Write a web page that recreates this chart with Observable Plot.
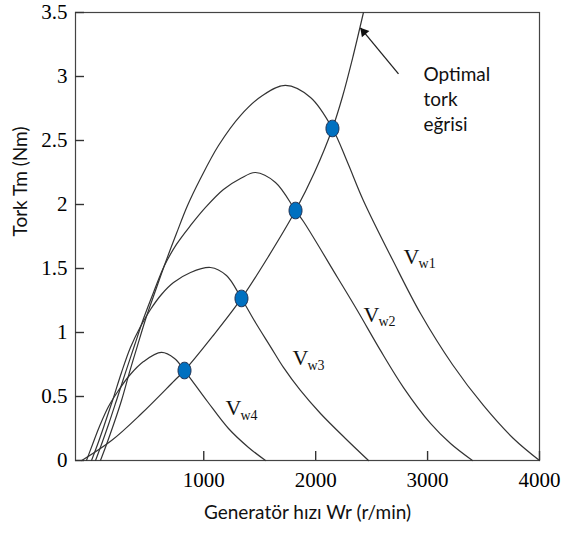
<!DOCTYPE html>
<html>
<head>
<meta charset="utf-8">
<script src="https://cdn.jsdelivr.net/npm/d3@7"></script>
<script src="https://cdn.jsdelivr.net/npm/@observablehq/plot@0.6"></script>
<style>
  html, body { margin: 0; padding: 0; background: #fff; }
</style>
</head>
<body>
<div id="chart"></div>
<script>
// ---- data ----
const xTicks = [1000, 2000, 3000, 4000];
const yTicks = [0, 0.5, 1, 1.5, 2, 2.5, 3, 3.5];

const xLabel = "Generatör hızı Wr (r/min)";
const yLabel = "Tork Tm (Nm)";

// torque curves for the four wind speeds
const vw1W = [77, 131, 194, 265, 336, 408, 488, 569, 658, 756, 855, 971, 1132, 1328, 1525, 1730, 1954, 2150, 2284, 2427, 2686, 2937, 3222, 3499, 3767, 4000];
const vw1T = [0, 0.125, 0.281, 0.469, 0.688, 0.898, 1.125, 1.328, 1.547, 1.773, 1.992, 2.203, 2.461, 2.695, 2.852, 2.93, 2.836, 2.594, 2.33, 2.03, 1.57, 1.148, 0.75, 0.43, 0.172, 0];

const vw2W = [33, 86, 149, 220, 301, 381, 462, 551, 649, 756, 882, 1016, 1176, 1328, 1462, 1641, 1820, 1891, 2195, 2374, 2579, 2785, 3026, 3205, 3401];
const vw2T = [0, 0.125, 0.281, 0.469, 0.688, 0.898, 1.109, 1.313, 1.523, 1.688, 1.836, 1.977, 2.117, 2.203, 2.25, 2.172, 1.953, 1.867, 1.43, 1.17, 0.86, 0.57, 0.29, 0.133, 0];

const vw3W = [-3, 51, 113, 185, 265, 345, 435, 524, 622, 730, 882, 1060, 1203, 1337, 1462, 1596, 1712, 1864, 2043, 2266, 2472];
const vw3T = [0, 0.125, 0.281, 0.469, 0.688, 0.883, 1.047, 1.18, 1.297, 1.39, 1.469, 1.508, 1.445, 1.266, 1.078, 0.89, 0.727, 0.547, 0.367, 0.172, 0];

const vw4W = [-48, 6, 68, 149, 238, 336, 462, 622, 739, 828, 1033, 1221, 1400, 1552];
const vw4T = [0, 0.125, 0.266, 0.422, 0.547, 0.664, 0.773, 0.844, 0.797, 0.703, 0.461, 0.25, 0.102, 0];

// optimal torque curve
const optW = [-90, 176, 444, 739, 828, 1078, 1337, 1578, 1820, 1989, 2150, 2240, 2329, 2427];
const optT = [0, 0.156, 0.367, 0.625, 0.703, 0.969, 1.266, 1.594, 1.953, 2.25, 2.594, 2.844, 3.14, 3.5];

// operating points
const dotW = [2150, 1820, 1337, 828];
const dotT = [2.594, 1.953, 1.266, 0.703];

// curve labels
const labelMain = ["V", "V", "V", "V"];
const labelSub = ["w1", "w2", "w3", "w4"];
const labelW = [2785, 2427, 1793, 1194];
const labelT = [1.59, 1.14, 0.80, 0.41];

// annotation
const noteText = "Optimal\ntork\neğrisi";
const noteW = [2963];
const noteT = [2.83];
const arrowFromW = [2740], arrowFromT = [3.02];
const arrowToW = [2400], arrowToT = [3.38];

// ---- layout ----
const W = 561, H = 533;
const mL = 75, mR = 22, mT = 12, mB = 73;
const xDomain = [-146, 4000];
const yDomain = [0, 3.5];
const tickLen = 9; // px, inward ticks
const xPerPx = (xDomain[1] - xDomain[0]) / (W - mL - mR);
const yPerPx = (yDomain[1] - yDomain[0]) / (H - mT - mB);

// ---- tables ----
const toPts = (ws, ts, name) => ws.map((w, i) => ({w, t: ts[i], name}));
const curves = [
  ...toPts(vw1W, vw1T, "Vw1"),
  ...toPts(vw2W, vw2T, "Vw2"),
  ...toPts(vw3W, vw3T, "Vw3"),
  ...toPts(vw4W, vw4T, "Vw4")
];
const optimal = toPts(optW, optT, "opt");
const dots = toPts(dotW, dotT, "dot");
const labels = labelW.map((w, i) => ({w, t: labelT[i], main: labelMain[i], sub: labelSub[i]}));
const note = noteW.map((w, i) => ({w, t: noteT[i], text: noteText}));
const arrows = arrowFromW.map((w, i) => ({x1: w, y1: arrowFromT[i], x2: arrowToW[i], y2: arrowToT[i]}));
const xTickRows = xTicks.map(v => ({x: v, y1: yDomain[0], y2: yDomain[0] + tickLen * yPerPx}));
const yTickRows = yTicks.map(v => ({x1: xDomain[0], x2: xDomain[0] + tickLen * xPerPx, y: v}));

// ellipse symbol for the operating points
const ellipse = {
  draw(ctx) {
    const rx = 6.5, ry = 8.3, k = 0.5523;
    ctx.moveTo(rx, 0);
    ctx.bezierCurveTo(rx, ry * k, rx * k, ry, 0, ry);
    ctx.bezierCurveTo(-rx * k, ry, -rx, ry * k, -rx, 0);
    ctx.bezierCurveTo(-rx, -ry * k, -rx * k, -ry, 0, -ry);
    ctx.bezierCurveTo(rx * k, -ry, rx, -ry * k, rx, 0);
    ctx.closePath();
  }
};

const serif = "'Liberation Serif', 'Times New Roman', serif";
const sans = "Lato, 'Open Sans', sans-serif";

const chart = Plot.plot({
  width: W,
  height: H,
  marginLeft: mL,
  marginRight: mR,
  marginTop: mT,
  marginBottom: mB,
  x: {domain: xDomain},
  y: {domain: yDomain},
  style: {fontFamily: serif, fontSize: "21px", color: "#000", background: "#fff", overflow: "visible"},
  marks: [
    Plot.frame({stroke: "#444", strokeWidth: 1.2, fill: "none"}),
    Plot.axisX(xTicks, {tickSize: 0, tickPadding: 12, tickFormat: d => String(d), label: null, fill: "#000", fontSize: 21}),
    Plot.axisY(yTicks, {tickSize: 0, tickPadding: 8, tickFormat: d => String(d), label: null, fill: "#000", fontSize: 21}),
    Plot.ruleX(xTickRows, {x: "x", y1: "y1", y2: "y2", stroke: "#333", strokeWidth: 1.4}),
    Plot.ruleY(yTickRows, {y: "y", x1: "x1", x2: "x2", stroke: "#333", strokeWidth: 1.4}),
    Plot.line(curves, {x: "w", y: "t", z: "name", curve: "catmull-rom", stroke: "#333", strokeWidth: 1.2}),
    Plot.line(optimal, {x: "w", y: "t", curve: "catmull-rom", stroke: "#333", strokeWidth: 1.2}),
    Plot.dot(dots, {x: "w", y: "t", symbol: ellipse, r: 7, fill: "#0070C0", stroke: "#1c2d4f", strokeWidth: 1}),
    Plot.text(labels, {x: "w", y: "t", text: "main", textAnchor: "start", fontFamily: serif, fontSize: 22, fill: "#111"}),
    Plot.text(labels, {x: "w", y: "t", text: "sub", textAnchor: "start", dx: 15, dy: 7, fontFamily: serif, fontSize: 14, fill: "#111"}),
    Plot.link(arrows, {x1: "x1", y1: "y1", x2: "x2", y2: "y2", stroke: "#222", strokeWidth: 1.3}),
    Plot.dot(arrows, {x: "x2", y: "y2", symbol: "triangle", r: 3.6, rotate: -40, dx: 3.4, dy: 4.2, fill: "#111", stroke: "none"}),
    Plot.text(note, {x: "w", y: "t", text: "text", textAnchor: "start", lineAnchor: "middle", lineHeight: 1.3, fontFamily: sans, fontSize: 19, fill: "#111"}),
    Plot.text([xLabel], {frameAnchor: "bottom", dy: 58, fontFamily: sans, fontSize: 19, fill: "#111"}),
    Plot.text([yLabel], {frameAnchor: "left", dx: -55, rotate: -90, fontFamily: sans, fontSize: 19, fill: "#111"})
  ]
});

document.getElementById("chart").appendChild(chart);
</script>
</body>
</html>
